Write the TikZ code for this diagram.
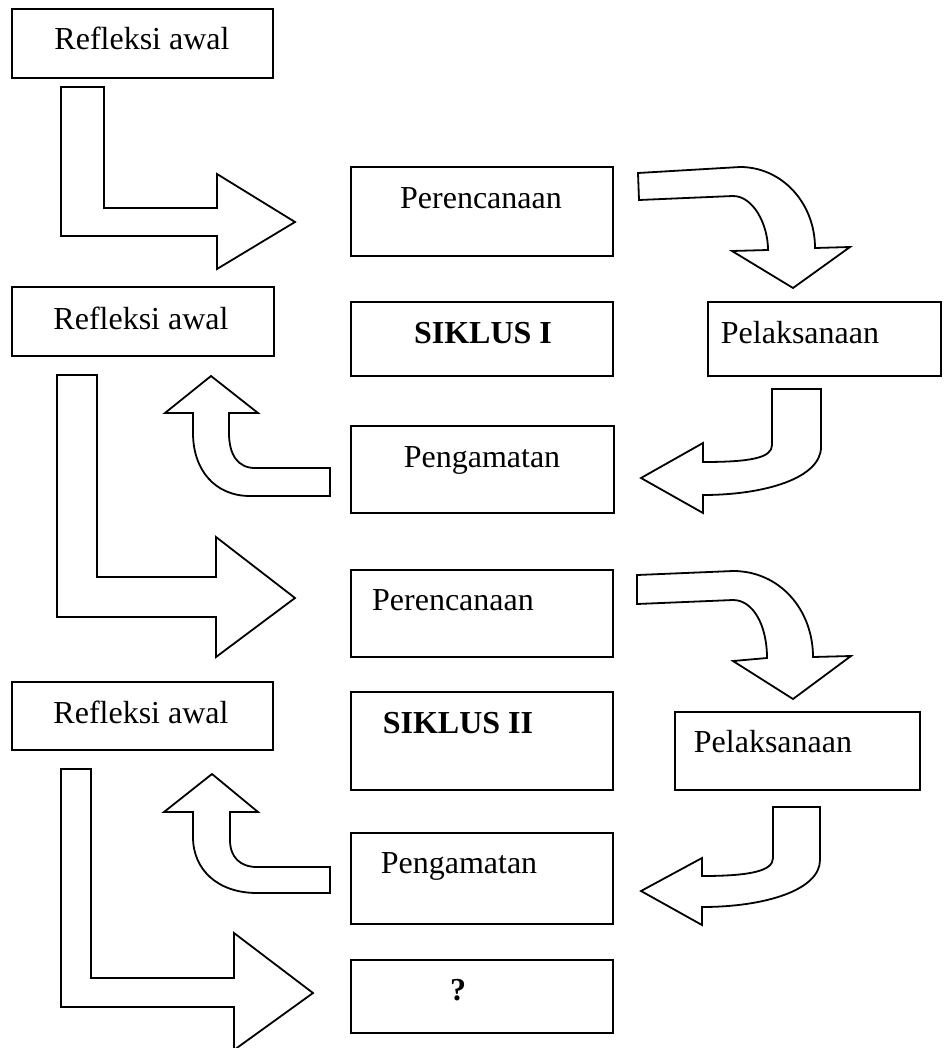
\documentclass[tikz,border=0pt]{standalone}
\usepackage{fontspec}
\setmainfont{Liberation Serif}
\usetikzlibrary{fit}
\begin{document}
\begin{tikzpicture}[x=0.5pt, y=-0.5pt,
                  kotak/.style={draw, line width=0.9pt, inner sep=0pt},
                  teks/.style={anchor=base, inner sep=0pt, font=\fontsize{16}{19}\selectfont},
                  panah/.style={draw, fill=white, line width=0.9pt, line join=miter}]
\useasboundingbox (0,0) rectangle (943,1048);
% kotak
\foreach \n/\xa/\ya/\xb/\yb in {ref1/12/9/273/78, per1/351/167/613/256,
    ref2/12/287/274/356, sik1/351/302/613/376, pel1/708/302/941/376,
    pen1/351/426/614/513, per2/351/570/613/657, ref3/12/682/273/750,
    sik2/351/692/613/790, pel2/675/712/920/790, pen2/351/833/613/924,
    akhir/351/960/613/1033}
  \node[kotak, fit={(\xa,\ya) (\xb,\yb)}] (\n) {};
% teks
\foreach \n/\x/\y/\t in {tref1/142/50/Refleksi awal, tper1/481/208/Perencanaan,
    tref2/141/329/Refleksi awal, tsik1/483/343/\textbf{SIKLUS I},
    tpel1/800/343/Pelaksanaan, tpen1/482/467/Pengamatan,
    tper2/453/610/Perencanaan, tref3/141/723/Refleksi awal,
    tsik2/458/733/\textbf{SIKLUS II}, tpel2/773/752/Pelaksanaan,
    tpen2/459/873/Pengamatan, takhir/458/1000/\textbf{?}}
  \node[teks] (\n) at (\x,\y) {\t};
% siklus I
\draw[panah] (61,87) -- (104,87) -- (104,208) -- (217,208) -- (217,174) -- (295,222)
  -- (217,269) -- (217,236) -- (61,236) -- cycle;
\draw[panah] (638,173) -- (740,167) .. controls (782,167) and (815,203) .. (815,248)
  -- (850,247) -- (793,288) -- (732,251) -- (768,250)
  .. controls (768,224) and (753,196) .. (733,196) -- (639,200) -- cycle;
\draw[panah] (772,389) -- (821,389) -- (821,447) .. controls (821,478) and (765,495) .. (703,495)
  -- (703,513) -- (641,478) -- (703,443) -- (703,462)
  .. controls (750,462) and (772,458) .. (772,445) -- cycle;
\draw[panah] (211,376) -- (258,413) -- (229,413) -- (229,433)
  .. controls (229,455) and (238,468) .. (255,468) -- (330,468) -- (330,496) -- (250,496)
  .. controls (215,496) and (193,470) .. (193,433) -- (193,413) -- (165,413) -- cycle;
% siklus II
\draw[panah] (57,375) -- (97,375) -- (97,577) -- (216,577) -- (216,537) -- (295,598)
  -- (216,657) -- (216,617) -- (57,617) -- cycle;
\draw[panah] (637,575) -- (733,571) .. controls (780,571) and (813,610) .. (813,657)
  -- (851,656) -- (793,699) -- (733,661) -- (767,658)
  .. controls (767,625) and (753,600) .. (733,600) -- (637,604) -- cycle;
\draw[panah] (773,807) -- (820,807) -- (820,860) .. controls (820,890) and (765,907) .. (702,907)
  -- (702,925) -- (641,891) -- (702,858) -- (702,876)
  .. controls (750,876) and (773,871) .. (773,858) -- cycle;
\draw[panah] (212,774) -- (258,812) -- (230,812) -- (230,840)
  .. controls (230,857) and (240,867) .. (257,867) -- (330,867) -- (330,893) -- (257,893)
  .. controls (218,893) and (193,870) .. (193,837) -- (193,812) -- (164,812) -- cycle;
\draw[panah] (61,769) -- (91,769) -- (91,978) -- (234,978) -- (234,933) -- (313,993)
  -- (234,1050) -- (234,1007) -- (61,1007) -- cycle;
\end{tikzpicture}
\end{document}
